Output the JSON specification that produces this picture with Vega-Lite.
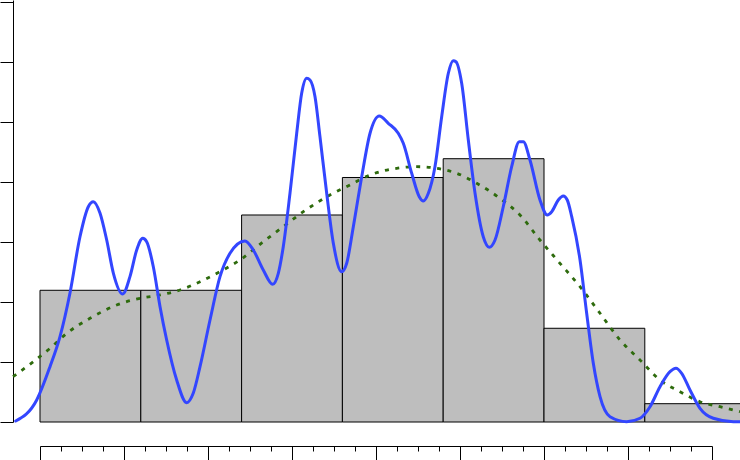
{
  "$schema": "https://vega.github.io/schema/vega-lite/v6.json",
  "width": 672,
  "height": 422,
  "autosize": {"type": "none"},
  "padding": {"left": 40, "top": 0, "right": 28, "bottom": 38},
  "background": "white",
  "config": {"view": {"stroke": null}},
  "datasets": {
    "bars": [
      {"x": 0.0, "xe": 1.2, "y": 2.195},
      {"x": 1.2, "xe": 2.4, "y": 2.195},
      {"x": 2.4, "xe": 3.6, "y": 3.45},
      {"x": 3.6, "xe": 4.8, "y": 4.075},
      {"x": 4.8, "xe": 6.0, "y": 4.388},
      {"x": 6.0, "xe": 7.2, "y": 1.562},
      {"x": 7.2, "xe": 8.4, "y": 0.305}
    ],
    "kde": [
      {"x": -0.289, "y": 0.017}, {"x": -0.039, "y": 0.367}, {"x": 0.119, "y": 0.922}, {"x": 0.238, "y": 1.422},
      {"x": 0.357, "y": 2.15}, {"x": 0.476, "y": 3.088}, {"x": 0.575, "y": 3.588}, {"x": 0.635, "y": 3.672},
      {"x": 0.714, "y": 3.483}, {"x": 0.794, "y": 3.033}, {"x": 0.873, "y": 2.483}, {"x": 0.985, "y": 2.133},
      {"x": 1.071, "y": 2.422}, {"x": 1.151, "y": 2.867}, {"x": 1.223, "y": 3.062}, {"x": 1.27, "y": 3.005},
      {"x": 1.349, "y": 2.588}, {"x": 1.429, "y": 1.922}, {"x": 1.508, "y": 1.367}, {"x": 1.627, "y": 0.7},
      {"x": 1.746, "y": 0.322}, {"x": 1.825, "y": 0.483}, {"x": 1.905, "y": 0.922}, {"x": 2.024, "y": 1.7},
      {"x": 2.143, "y": 2.422}, {"x": 2.262, "y": 2.812}, {"x": 2.44, "y": 3.017}, {"x": 2.539, "y": 2.867},
      {"x": 2.658, "y": 2.533}, {"x": 2.77, "y": 2.295}, {"x": 2.837, "y": 2.478}, {"x": 2.896, "y": 2.922},
      {"x": 2.976, "y": 3.812}, {"x": 3.056, "y": 4.812}, {"x": 3.115, "y": 5.478}, {"x": 3.175, "y": 5.728},
      {"x": 3.214, "y": 5.7}, {"x": 3.274, "y": 5.422}, {"x": 3.333, "y": 4.755}, {"x": 3.413, "y": 3.812},
      {"x": 3.492, "y": 2.978}, {"x": 3.592, "y": 2.505}, {"x": 3.651, "y": 2.645}, {"x": 3.73, "y": 3.255},
      {"x": 3.83, "y": 4.088}, {"x": 3.929, "y": 4.812}, {"x": 4.039, "y": 5.1}, {"x": 4.146, "y": 4.978},
      {"x": 4.265, "y": 4.812}, {"x": 4.325, "y": 4.645}, {"x": 4.425, "y": 4.145}, {"x": 4.515, "y": 3.755},
      {"x": 4.563, "y": 3.683}, {"x": 4.623, "y": 3.812}, {"x": 4.702, "y": 4.255}, {"x": 4.782, "y": 5.088},
      {"x": 4.861, "y": 5.812}, {"x": 4.92, "y": 6.022}, {"x": 4.952, "y": 6.005}, {"x": 5.02, "y": 5.645},
      {"x": 5.099, "y": 4.7}, {"x": 5.179, "y": 3.812}, {"x": 5.277, "y": 3.088}, {"x": 5.349, "y": 2.912},
      {"x": 5.417, "y": 3.033}, {"x": 5.515, "y": 3.588}, {"x": 5.615, "y": 4.255}, {"x": 5.706, "y": 4.672},
      {"x": 5.754, "y": 4.672}, {"x": 5.833, "y": 4.367}, {"x": 5.952, "y": 3.7}, {"x": 6.039, "y": 3.45},
      {"x": 6.092, "y": 3.505}, {"x": 6.17, "y": 3.7}, {"x": 6.23, "y": 3.767}, {"x": 6.277, "y": 3.7},
      {"x": 6.33, "y": 3.422}, {"x": 6.429, "y": 2.7}, {"x": 6.508, "y": 1.812}, {"x": 6.587, "y": 0.978},
      {"x": 6.667, "y": 0.422}, {"x": 6.786, "y": 0.088}, {"x": 6.984, "y": 0.005}, {"x": 7.143, "y": 0.062},
      {"x": 7.262, "y": 0.255}, {"x": 7.381, "y": 0.588}, {"x": 7.5, "y": 0.838}, {"x": 7.571, "y": 0.895},
      {"x": 7.639, "y": 0.812}, {"x": 7.738, "y": 0.533}, {"x": 7.857, "y": 0.228}, {"x": 8.015, "y": 0.062},
      {"x": 8.254, "y": 0.005}, {"x": 8.333, "y": 0.005}
    ],
    "fit": [
      {"x": -0.321, "y": 0.755}, {"x": -0.08, "y": 1.005}, {"x": 0.119, "y": 1.228}, {"x": 0.318, "y": 1.478},
      {"x": 0.595, "y": 1.728}, {"x": 0.913, "y": 1.95}, {"x": 1.19, "y": 2.062}, {"x": 1.429, "y": 2.117},
      {"x": 1.667, "y": 2.2}, {"x": 1.905, "y": 2.338}, {"x": 2.143, "y": 2.505}, {"x": 2.381, "y": 2.7},
      {"x": 2.658, "y": 3.005}, {"x": 2.896, "y": 3.255}, {"x": 3.135, "y": 3.505}, {"x": 3.452, "y": 3.783},
      {"x": 3.69, "y": 3.95}, {"x": 3.929, "y": 4.117}, {"x": 4.246, "y": 4.228}, {"x": 4.485, "y": 4.255},
      {"x": 4.723, "y": 4.228}, {"x": 4.96, "y": 4.145}, {"x": 5.199, "y": 3.978}, {"x": 5.476, "y": 3.728},
      {"x": 5.714, "y": 3.45}, {"x": 5.952, "y": 3.033}, {"x": 6.19, "y": 2.645}, {"x": 6.429, "y": 2.255},
      {"x": 6.667, "y": 1.812}, {"x": 6.905, "y": 1.367}, {"x": 7.143, "y": 1.033}, {"x": 7.381, "y": 0.7},
      {"x": 7.619, "y": 0.505}, {"x": 7.857, "y": 0.338}, {"x": 8.095, "y": 0.255}, {"x": 8.333, "y": 0.172}
    ]
  },
  "encoding": {
    "x": {
      "field": "x", "type": "quantitative",
      "scale": {"domain": [0, 8], "nice": false, "zero": false},
      "axis": {
        "title": null, "labels": false, "grid": false, "offset": 24,
        "values": [0,0.25,0.5,0.75,1,1.25,1.5,1.75,2,2.25,2.5,2.75,3,3.25,3.5,3.75,4,4.25,4.5,4.75,5,5.25,5.5,5.75,6,6.25,6.5,6.75,7,7.25,7.5,7.75,8],
        "tickSize": {"condition": {"test": "datum.value % 1 === 0", "value": 15}, "value": 5},
        "domainColor": "#000000", "tickColor": "#000000", "domainWidth": 1, "tickWidth": 1
      }
    },
    "y": {
      "field": "y", "type": "quantitative",
      "scale": {"domain": [0, 7.033], "nice": false, "zero": true},
      "axis": {
        "title": null, "labels": false, "grid": false, "offset": 27,
        "values": [0, 1, 2, 3, 4, 5, 6, 7],
        "tickSize": 13,
        "domainColor": "#000000", "tickColor": "#000000", "domainWidth": 1, "tickWidth": 1
      }
    }
  },
  "layer": [
    {
      "data": {"name": "bars"},
      "mark": {"type": "rect", "fill": "#bebebe", "stroke": "#000000", "strokeWidth": 1},
      "encoding": {"x2": {"field": "xe"}, "y2": {"datum": 0}}
    },
    {
      "data": {"name": "fit"},
      "mark": {"type": "line", "color": "#2e6b0d", "strokeWidth": 2.8, "strokeDash": [4, 6.5], "interpolate": "monotone"},
      "encoding": {}
    },
    {
      "data": {"name": "kde"},
      "mark": {"type": "line", "color": "#3346ff", "strokeWidth": 3, "interpolate": "monotone", "strokeJoin": "round", "strokeCap": "round"},
      "encoding": {}
    }
  ]
}
